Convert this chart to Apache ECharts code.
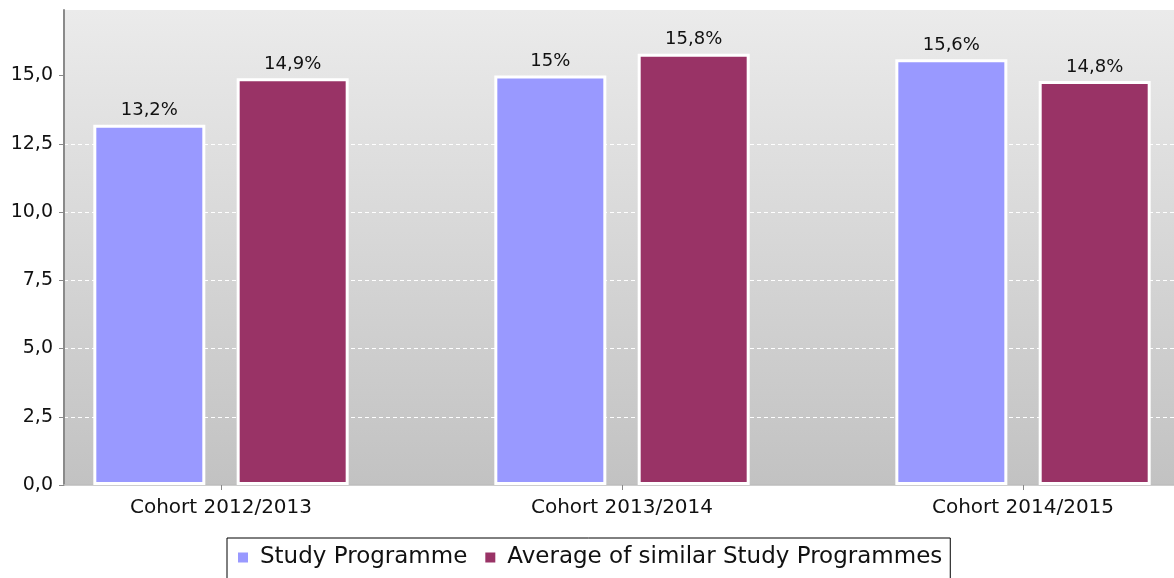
<!DOCTYPE html>
<html>
<head>
<meta charset="utf-8">
<script src="https://cdn.jsdelivr.net/npm/echarts@6/dist/echarts.min.js"></script>
<style>
html,body{margin:0;padding:0;background:#fff;}
#chart{width:1174px;height:578px;}
</style>
</head>
<body>
<div id="chart"></div>
<script>
const categories = ['Cohort 2012/2013', 'Cohort 2013/2014', 'Cohort 2014/2015'];
const seriesNames = ['Study Programme', 'Average of similar Study Programmes'];
const studyProgramme = [13.2, 15, 15.6];
const similarAverage = [14.9, 15.8, 14.8];
const yTicks = [0, 2.5, 5, 7.5, 10, 12.5, 15];

const FONT = 'DejaVu Sans';
const fmtNum = v => Number.isInteger(v) ? String(v) : v.toFixed(1).replace('.', ',');

const chart = echarts.init(document.getElementById('chart'), null, {renderer: 'canvas'});

function barSeries(name, values, color) {
  return {
    name: name,
    type: 'bar',
    barWidth: 112,
    barGap: '28%',
    data: values.map((v, i) => [i, v]),
    itemStyle: {color: color, borderColor: '#ffffff', borderWidth: 3},
    label: {
      show: true,
      position: 'top',
      distance: 5,
      fontFamily: FONT,
      fontSize: 18,
      color: '#111',
      formatter: p => fmtNum(p.value[1]) + '%'
    }
  };
}

chart.setOption({
  animation: false,
  backgroundColor: '#ffffff',
  textStyle: {fontFamily: FONT},
  grid: {
    left: 64, top: 10, bottom: 93, right: 0,
    show: true,
    borderWidth: 0,
    backgroundColor: {
      type: 'linear', x: 0, y: 0, x2: 0, y2: 1,
      colorStops: [{offset: 0, color: '#ebebeb'}, {offset: 1, color: '#c2c2c2'}]
    }
  },
  xAxis: {
    type: 'value',
    min: -0.3915,
    max: 2.3765,
    axisLine: {show: true, onZero: false, lineStyle: {color: '#bdbdbd', width: 1.5}},
    axisTick: {show: true, length: 5, customValues: categories.map((_, i) => i), lineStyle: {color: '#888'}},
    axisLabel: {
      customValues: categories.map((_, i) => i),
      formatter: v => categories[Math.round(v)] || '',
      fontFamily: FONT, fontSize: 20, color: '#111', margin: 13
    },
    splitLine: {show: false}
  },
  yAxis: {
    type: 'value',
    min: 0,
    max: 17.4,
    interval: 2.5,
    axisLine: {show: true, onZero: false, lineStyle: {color: '#8a8a8a', width: 2}},
    axisTick: {show: true, length: 5, customValues: yTicks, lineStyle: {color: '#888'}},
    axisLabel: {
      customValues: yTicks,
      formatter: v => v.toFixed(1).replace('.', ','),
      fontFamily: FONT, fontSize: 19, color: '#111', margin: 11
    },
    splitLine: {show: true, showMaxLine: false, lineStyle: {color: '#ffffff', type: [4, 3], width: 1}}
  },
  legend: {
    left: 227,
    top: 538,
    orient: 'horizontal',
    icon: 'rect',
    itemWidth: 12,
    itemHeight: 12,
    itemGap: 16,
    borderColor: '#000',
    borderWidth: 1,
    borderRadius: 0,
    padding: [8, 8, 12, 9],
    textStyle: {fontFamily: FONT, fontSize: 23, color: '#111', padding: [0, 0, 0, 6]},
    data: seriesNames
  },
  series: [
    barSeries(seriesNames[0], studyProgramme, '#9999ff'),
    barSeries(seriesNames[1], similarAverage, '#993366')
  ]
});
</script>
</body>
</html>
